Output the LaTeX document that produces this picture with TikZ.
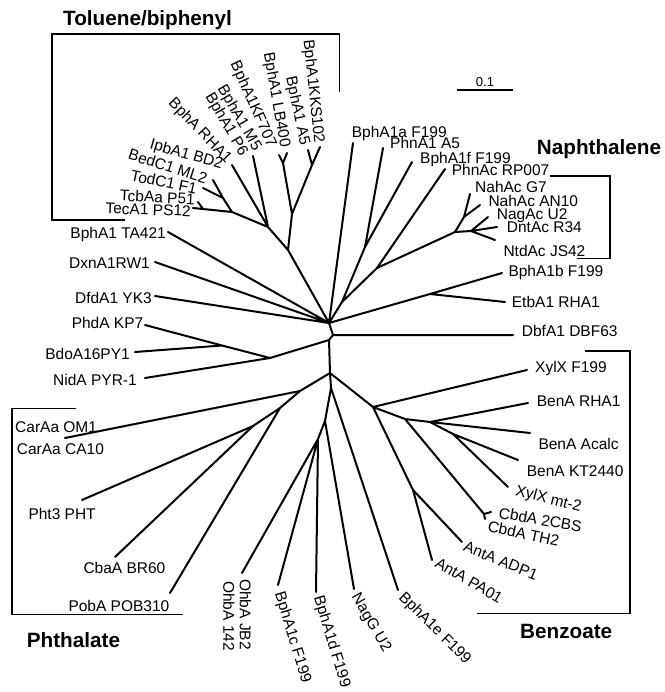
\documentclass[tikz,border=0pt]{standalone}
\usepackage{fontspec}
\setmainfont{Liberation Sans}
\newcommand\labfont{\fontsize{15.5}{17}\selectfont}
\newcommand\ttlfont{\fontsize{20.7}{24}\selectfont\bfseries}
\newcommand\sclfont{\fontsize{13}{15}\selectfont}
\begin{document}
\begin{tikzpicture}[x=1pt,y=-1pt,
  br/.style={line width=2pt, line cap=round, line join=round},
  brk/.style={line width=1.6pt},
  lab/.style={font=\labfont, inner sep=0pt, text height=11.1pt, text depth=0pt},
  le/.style={lab, anchor=east},
  lw/.style={lab, anchor=west},
  ttl/.style={font=\ttlfont, inner sep=0pt, anchor=base west}]
\useasboundingbox (0,0) rectangle (664,692);
% internal nodes
\coordinate (CT) at (329,323);
\coordinate (CM) at (333,335);
\coordinate (CB) at (329,340);
\coordinate (T0) at (288,250);
\coordinate (T1) at (292,214);
\coordinate (T2) at (283,163);
\coordinate (T3) at (312,165);
\coordinate (T4) at (268,227);
\coordinate (T5) at (232,212);
\coordinate (T6) at (223,198);
\coordinate (T7) at (203,209);
\coordinate (N1) at (342,302);
\coordinate (J) at (365,247);
\coordinate (NN) at (377,268);
\coordinate (NS) at (455,232);
\coordinate (NG) at (464,217);
\coordinate (NU) at (471,231);
\coordinate (E) at (430,294);
\coordinate (PH) at (270,358);
\coordinate (PB) at (222,345.5);
\coordinate (CL) at (330,373);
\coordinate (Ph1) at (300,391);
\coordinate (Ph2) at (280,408);
\coordinate (Ph3) at (253,426);
\coordinate (L1) at (331,388);
\coordinate (L2) at (325,421);
\coordinate (L3) at (318,439);
\coordinate (B0) at (373,407);
\coordinate (B1) at (405,419);
\coordinate (B2) at (430,422);
\coordinate (B3) at (453,434);
\coordinate (BA) at (413,490);
\coordinate (CF) at (484,514);
% tips
\coordinate (tKKS) at (320,147);
\coordinate (tA5) at (308,150);
\coordinate (tLB) at (287,153);
\coordinate (tKF) at (279,155);
\coordinate (tM5) at (253,156);
\coordinate (tRHA) at (232,165);
\coordinate (tML2) at (213,180);
\coordinate (tF1) at (203,188);
\coordinate (tP51) at (198,202);
\coordinate (tPS12) at (193,208);
\coordinate (tTA) at (168,232);
\coordinate (tDxn) at (155,262);
\coordinate (tDfd) at (155,296);
\coordinate (tPhd) at (145,325);
\coordinate (tBdo) at (135,352);
\coordinate (tNid) at (145,378);
\coordinate (tCar) at (65,438);
\coordinate (tPht) at (82,500);
\coordinate (tCba) at (115,557);
\coordinate (tPob) at (170,593);
\coordinate (tOhb) at (242,573);
\coordinate (tBc) at (278,585);
\coordinate (tBd) at (316,592);
\coordinate (tNagG) at (354,589);
\coordinate (tBe) at (398,590);
\coordinate (tAPA) at (432,560);
\coordinate (tADP) at (462,542);
\coordinate (tCb1) at (491,512);
\coordinate (tCb2) at (485,519);
\coordinate (tXm) at (508,487);
\coordinate (tKT) at (518,460);
\coordinate (tAc) at (530,433);
\coordinate (tBR) at (528,403);
\coordinate (tXF) at (527,370);
\coordinate (tDbf) at (513,335);
\coordinate (tEtb) at (505,302);
\coordinate (tBb) at (502,273);
\coordinate (tNtd) at (495,240);
\coordinate (tDnt) at (497,227);
\coordinate (tNagAc) at (488,217);
\coordinate (tAN) at (480,205);
\coordinate (tG7) at (470,194);
\coordinate (tPhnAc) at (445,169);
\coordinate (tBf) at (412,162);
\coordinate (tPhnA1) at (383,148);
\coordinate (tBa) at (353,143);
% branches
\draw[br] (CT)--(CM) (CM)--(CB) (CM)--(tDbf)
  (CT)--(T0) (T0)--(T1) (T1)--(T2) (T2)--(tLB) (T2)--(tKF) (T1)--(T3) (T3)--(tA5) (T3)--(tKKS)
  (T0)--(T4) (T4)--(tRHA) (T4)--(tM5) (T4)--(T5) (T5)--(T6) (T6)--(tML2) (T6)--(tF1)
  (T5)--(T7) (T7)--(tPS12) (T7)--(tP51)
  (CT)--(tTA) (CT)--(tDxn) (CT)--(tDfd)
  (CT)--(tBa) (CT)--(N1) (N1)--(J) (J)--(tBf) (J)--(tPhnA1) (N1)--(NN) (NN)--(tPhnAc)
  (NN)--(NS) (NS)--(NG) (NG)--(tG7) (NG)--(tAN) (NS)--(NU) (NU)--(tNagAc) (NU)--(tDnt) (NU)--(tNtd)
  (CT)--(E) (E)--(tBb) (E)--(tEtb)
  (CB)--(PH) (PH)--(PB) (PB)--(tPhd) (PB)--(tBdo) (PH)--(tNid)
  (CB)--(CL) (CL)--(Ph1) (Ph1)--(tCar) (Ph1)--(Ph2) (Ph2)--(tPob) (Ph2)--(Ph3) (Ph3)--(tPht) (Ph3)--(tCba)
  (CL)--(L1) (L1)--(tBe) (L1)--(L2) (L2)--(tNagG) (L2)--(L3) (L3)--(tOhb) (L3)--(tBc) (L3)--(tBd)
  (CL)--(B0) (B0)--(tXF) (B0)--(B1) (B1)--(B2) (B2)--(tBR) (B2)--(tAc) (B2)--(B3) (B3)--(tKT) (B3)--(tXm)
  (B1)--(CF) (CF)--(tCb1) (CF)--(tCb2) (B0)--(BA) (BA)--(tADP) (BA)--(tAPA);
% toluene labels
\node[le, rotate=-84] (lKKS) at (320,143) {BphA1KKS102};
\node[le, rotate=-78] (lA5) at (306,145) {BphA1 A5};
\node[le, rotate=-80] (lLB) at (286,147) {BphA1 LB400};
\node[le, rotate=-66] (lKF) at (273,146) {BphA1KF707};
\node[le, rotate=-60] (lM5) at (258.5,149) {BphA1 M5};
\node[le, rotate=-60] (lP6) at (245,154) {BphA1 P6};
\node[le, rotate=-46] (lRHA) at (230,160) {BphA RHA1};
\node[le, rotate=-16] (lIpb) at (223,164) {IpbA1 BD2};
\node[le, rotate=-18] (lBed) at (207,179) {BedC1 ML2};
\node[le, rotate=-12] (lTod) at (197,189) {TodC1 F1};
\node[le, rotate=-3] (lTcb) at (195,199) {TcbAa P51};
\node[le, rotate=-2] (lTec) at (191,211) {TecA1 PS12};
% left labels
\node[le] (lTA) at (166,232.5) {BphA1 TA421};
\node[le] (lDxn) at (150,262.5) {DxnA1RW1};
\node[le] (lDfd) at (152,297.5) {DfdA1 YK3};
\node[le] (lPhd) at (143.5,322.5) {PhdA KP7};
\node[le] (lBdo) at (130,353.5) {BdoA16PY1};
\node[le] (lNid) at (137,379.5) {NidA PYR-1};
% right labels
\node[lw] (lBa) at (351.7,131.8) {BphA1a F199};
\node[lw] (lPhnA1) at (390,142.5) {PhnA1 A5};
\node[lw] (lBf) at (420,157.5) {BphA1f F199};
\node[lw] (lPhnAc) at (451.7,169.5) {PhnAc RP007};
\node[lw] (lG7) at (475,186.5) {NahAc G7};
\node[lw] (lAN) at (488.3,200.5) {NahAc AN10};
\node[lw] (lNagAc) at (496.7,213.5) {NagAc U2};
\node[lw] (lDnt) at (506.7,226.5) {DntAc R34};
\node[lw] (lNtd) at (503.3,250.5) {NtdAc JS42};
\node[lw] (lBb) at (508.3,270.5) {BphA1b F199};
\node[lw] (lEtb) at (511.7,301.5) {EtbA1 RHA1};
\node[lw] (lDbf) at (521.7,330.5) {DbfA1 DBF63};
\node[lw] (lXF) at (535,367) {XylX F199};
\node[lw] (lBR) at (536.7,400.5) {BenA RHA1};
\node[lw] (lAc) at (538.3,444) {BenA Acalc};
\node[lw] (lKT) at (526.7,470.5) {BenA KT2440};
% benzoate and lower rotated labels
\node[lw, rotate=-14] (lXm) at (516,490) {XylX mt-2};
\node[lw, rotate=-10] (lCb1) at (499,512.5) {CbdA 2CBS};
\node[lw, rotate=-12] (lCb2) at (488,526) {CbdA TH2};
\node[lw, rotate=-22] (lADP) at (464.4,545.7) {AntA ADP1};
\node[lw, rotate=-30] (lAPA) at (436.6,561.4) {AntA PA01};
\node[lw, rotate=-45] (lBe) at (402,594) {BphA1e F199};
\node[lw, rotate=-60] (lNagG) at (356,594) {NagG U2};
\node[lw, rotate=-73] (lBd) at (319,596) {BphA1d F199};
\node[lw, rotate=-73] (lBc) at (280,592) {BphA1c F199};
\node[lw, rotate=-90] (lOhb1) at (245.5,579) {OhbA JB2};
\node[lw, rotate=-90] (lOhb2) at (229,581) {OhbA 142};
% phthalate labels
\node[lw] (lCar1) at (15,427) {CarAa OM1};
\node[lw] (lCar2) at (16.7,449.2) {CarAa CA10};
\node[lw] (lPht) at (28.3,514.2) {Pht3 PHT};
\node[lw] (lCba) at (83.3,567.5) {CbaA BR60};
\node[lw] (lPob) at (68.3,605.8) {PobA POB310};
% brackets
\draw[brk] (125,220) -- (51.7,220) -- (51.7,34.3) -- (339.3,34.3) -- (339.3,91.7);
\draw[brk] (550,176) -- (610,176) -- (610,258.3) -- (576.7,258.3);
\draw[brk] (585,350.7) -- (630,350.7) -- (630,613.3) -- (476.7,613.3);
\draw[brk] (76,408.3) -- (11.7,408.3) -- (11.7,614.3) -- (182.7,614.3);
% titles
\node[ttl] (tTol) at (63,26) {Toluene/biphenyl};
\node[ttl] (tNaph) at (536.7,155) {Naphthalene};
\node[ttl] (tBenz) at (520,638) {Benzoate};
\node[ttl] (tPhth) at (26.7,647) {Phthalate};
% scale bar
\coordinate (s1) at (456.7,90);
\coordinate (s2) at (512.7,90);
\draw[line width=2pt] (s1) -- (s2);
\node[font=\sclfont, inner sep=0pt, anchor=base] (sc) at (485,86.5) {0.1};
\end{tikzpicture}
\end{document}
